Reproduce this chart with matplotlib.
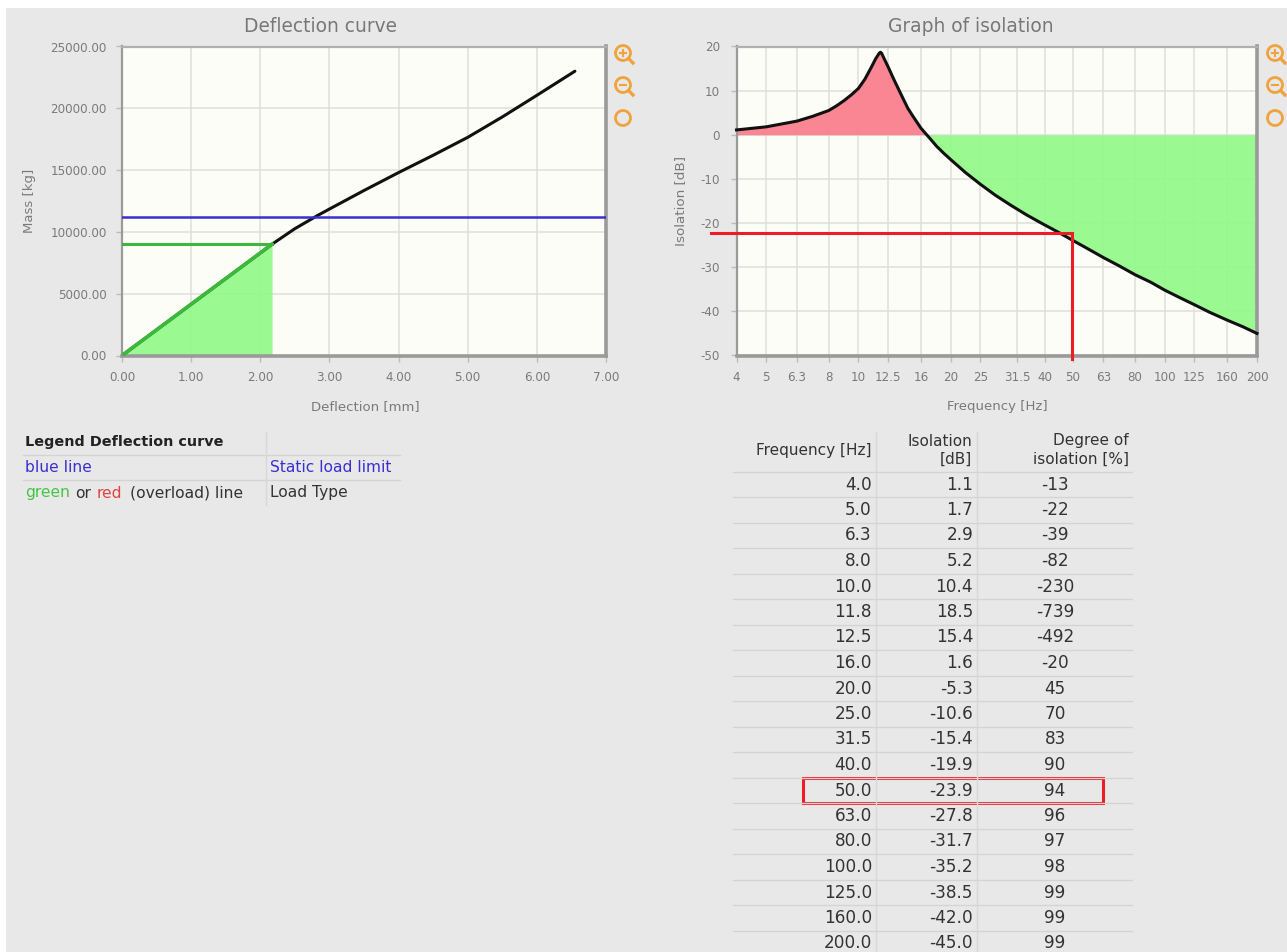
import matplotlib
matplotlib.use("Agg")
import matplotlib.pyplot as plt
from matplotlib.patches import Circle, Rectangle

W, H = 1287, 952

# =========================
# DATA
# =========================
deflection = [0.0, 2.19, 2.5, 2.82, 3.0, 3.5, 4.0, 4.5, 5.0, 5.5, 6.0, 6.55]
mass = [0, 9080, 10260, 11300, 11850, 13350, 14800, 16200, 17650, 19300, 21050, 23000]
load_deflection = 2.17
load_mass = 9010
static_limit = 11220

# estimated along the drawn curve, it sits a little away from the table below
iso_freq = [4, 5, 6.3, 7.1, 8, 8.5, 9, 9.5, 10, 10.5, 11, 11.4, 11.7, 11.8, 11.9, 12.2, 12.5, 13, 13.7, 14.5, 15, 16, 17, 18, 19, 20, 22.4, 25, 28, 31.5, 35.5, 40, 45, 50, 56, 63, 71, 80, 90, 100, 112, 125, 140, 160, 180, 200]
iso_db = [1.1, 1.8, 3.1, 4.2, 5.5, 6.6, 7.8, 9.1, 10.5, 12.6, 15.2, 17.3, 18.5, 18.7, 18.5, 16.9, 15.4, 12.8, 9.5, 6.0, 4.4, 1.5, -0.6, -2.6, -4.2, -5.6, -8.6, -11.2, -13.7, -16.0, -18.2, -20.2, -22.1, -23.9, -25.8, -27.8, -29.7, -31.7, -33.4, -35.2, -36.9, -38.5, -40.2, -42.0, -43.5, -45.0]

# the reference draws the 31.5 and 40 gridlines slightly right of their true log position
freq_ticks = [4, 5, 6.3, 8, 10, 12.5, 16, 20, 25, 33, 40.5, 50, 63, 80, 100, 125, 160, 200]
freq_labels = ["4", "5", "6.3", "8", "10", "12.5", "16", "20", "25", "31.5", "40", "50", "63", "80", "100", "125", "160", "200"]
iso_ticks = [20, 10, 0, -10, -20, -30, -40, -50]
iso_labels = ["20", "10", "0", "-10", "-20", "-30", "-40", "-50"]

table_freq = ["4.0", "5.0", "6.3", "8.0", "10.0", "11.8", "12.5", "16.0", "20.0", "25.0", "31.5", "40.0", "50.0", "63.0", "80.0", "100.0", "125.0", "160.0", "200.0"]
table_iso = ["1.1", "1.7", "2.9", "5.2", "10.4", "18.5", "15.4", "1.6", "-5.3", "-10.6", "-15.4", "-19.9", "-23.9", "-27.8", "-31.7", "-35.2", "-38.5", "-42.0", "-45.0"]
table_deg = ["-13", "-22", "-39", "-82", "-230", "-739", "-492", "-20", "45", "70", "83", "90", "94", "96", "97", "98", "99", "99", "99"]

# =========================
# COLOURS
# =========================
BG = "#e8e8e8"
PLOT_BG = "#fdfdf8"
GRID = "#dededa"
FRAME = "#9a9a9a"
TICK_TEXT = "#7a7a7a"
GREEN_FILL = "#92fa88"
RED_FILL = "#fb808e"
GREEN_LINE = "#3cb83c"
BLUE = "#3a2fd0"
RED = "#ee1c25"
ORANGE = "#f0a33c"
TEXT = "#333333"

plt.rcParams["font.family"] = ["DejaVu Sans"]

fig = plt.figure(figsize=(W / 100, H / 100), dpi=100, facecolor="white")


def make_axes(x0, y0, x1, y1):
    return fig.add_axes([x0 / W, 1 - y1 / H, (x1 - x0) / W, (y1 - y0) / H])


# full figure overlay in pixel coordinates, for the page furniture
page = fig.add_axes([0, 0, 1, 1], zorder=0)
page.set_xlim(0, W)
page.set_ylim(H, 0)
page.axis("off")
page.add_patch(Rectangle((6, 8), W - 6, H - 8, color=BG, lw=0))

over = fig.add_axes([0, 0, 1, 1], zorder=5)
over.set_xlim(0, W)
over.set_ylim(H, 0)
over.axis("off")


def style_axes(ax, ypad):
    ax.set_zorder(2)
    ax.set_facecolor(PLOT_BG)
    ax.grid(True, color=GRID, lw=1.1, zorder=1)
    ax.set_axisbelow(True)
    for s in ax.spines.values():
        s.set_color(FRAME)
        s.set_linewidth(1.6)
    ax.spines["top"].set_color("#b0b0b0")
    ax.spines["right"].set_linewidth(2.6)
    ax.spines["bottom"].set_linewidth(2.6)
    ax.tick_params(axis="both", which="major", length=4, width=1, color="#bbbbbb",
                   labelsize=8.6, labelcolor=TICK_TEXT)
    ax.tick_params(axis="both", which="minor", length=0)
    ax.tick_params(axis="x", pad=7)
    ax.tick_params(axis="y", pad=ypad)


# =========================
# DEFLECTION CURVE
# =========================
ax1 = make_axes(122, 46.5, 606, 355.5)
style_axes(ax1, 7)
ax1.set_xlim(0, 7)
ax1.set_ylim(0, 25000)
ax1.set_xticks(range(0, 8))
ax1.set_xticklabels([f"{v:.2f}" for v in range(0, 8)])
ax1.set_yticks(range(0, 25001, 5000))
ax1.set_yticklabels([f"{v:.2f}" for v in range(0, 25001, 5000)])

ax1.fill_between([0, load_deflection], [0, load_mass], 0, color=GREEN_FILL, alpha=0.92, lw=0, zorder=2)
ax1.plot(deflection, mass, color="#111111", lw=2.2, zorder=3, solid_capstyle="round")
ax1.plot([0, load_deflection], [0, load_mass], color=GREEN_LINE, lw=2.6, zorder=4)
ax1.plot([0, load_deflection], [load_mass, load_mass], color=GREEN_LINE, lw=2.2, zorder=4)
ax1.axhline(static_limit, color=BLUE, lw=1.8, zorder=4)

# =========================
# GRAPH OF ISOLATION
# =========================
ax2 = make_axes(736.5, 46.5, 1257, 355.5)
style_axes(ax2, 8)
ax2.set_xscale("log")
ax2.set_xlim(4, 200)
ax2.set_ylim(-50, 20)
ax2.set_xticks(freq_ticks)
ax2.set_xticklabels(freq_labels)
ax2.set_yticks(iso_ticks)
ax2.set_yticklabels(iso_labels)

ax2.fill_between(iso_freq, iso_db, 0, where=[v >= 0 for v in iso_db], interpolate=True,
                 color=RED_FILL, alpha=0.95, lw=0, zorder=2)
ax2.fill_between(iso_freq, iso_db, 0, where=[v <= 0 for v in iso_db], interpolate=True,
                 color=GREEN_FILL, alpha=0.92, lw=0, zorder=2)
ax2.plot(iso_freq, iso_db, color="#111111", lw=2.2, zorder=3, clip_on=False,
         solid_joinstyle="round")

# =========================
# TITLES AND AXIS LABELS
# =========================
over.text(320.5, 27, "Deflection curve", ha="center", va="center", fontsize=13.4, color="#777777")
over.text(971, 27, "Graph of isolation", ha="center", va="center", fontsize=13.4, color="#777777")
over.text(365, 406.5, "Deflection [mm]", ha="center", va="center", fontsize=9.5, color=TICK_TEXT)
over.text(997, 406.5, "Frequency [Hz]", ha="center", va="center", fontsize=9.5, color=TICK_TEXT)
over.text(30, 201, "Mass [kg]", ha="center", va="center", rotation=90, fontsize=9.5, color=TICK_TEXT)
over.text(681, 201, "Isolation [dB]", ha="center", va="center", rotation=90, fontsize=9.7, color=TICK_TEXT)

# red marker lines at 50 Hz
over.plot([711, 1072, 1072], [233, 233, 359], color=RED, lw=2.2, solid_joinstyle="miter")


# =========================
# ZOOM ICONS
# =========================
def icon(x, y, kind):
    over.add_patch(Circle((x, y), 7.5, fill=False, ec=ORANGE, lw=2.0, clip_on=True))
    if kind == "reset":
        return
    over.plot([x + 5.5, x + 10], [y + 5.5, y + 10], color=ORANGE, lw=2.4)
    over.plot([x - 3, x + 3], [y, y], color=ORANGE, lw=1.5)
    if kind == "in":
        over.plot([x, x], [y - 3, y + 3], color=ORANGE, lw=1.5)


for ix in (623, 1275):
    icon(ix, 53, "in")
    icon(ix, 85, "out")
    icon(ix, 118, "reset")

# =========================
# LEGEND TABLE
# =========================
LEGEND_SIZE = 11.2
over.text(25, 442, "Legend Deflection curve", fontsize=10.4, fontweight="bold", color="#222222", va="center")
over.text(25, 468, "blue line", fontsize=LEGEND_SIZE, color=BLUE, va="center")
over.text(270, 468, "Static load limit", fontsize=LEGEND_SIZE, color=BLUE, va="center")
over.text(25, 493, "green", fontsize=LEGEND_SIZE, color="#45c445", va="center")
over.text(75, 493, "or", fontsize=LEGEND_SIZE, color=TEXT, va="center")
over.text(97, 493, "red", fontsize=LEGEND_SIZE, color="#e0443c", va="center")
over.text(130, 493, "(overload) line", fontsize=LEGEND_SIZE, color=TEXT, va="center")
over.text(270, 493, "Load Type", fontsize=LEGEND_SIZE, color=TEXT, va="center")
for ly in (455, 480):
    over.plot([23, 400], [ly, ly], color="#d4d4d4", lw=1)
over.plot([266, 266], [432, 505], color="#d8d8d8", lw=1)

# =========================
# VALUE TABLE
# =========================
TABLE_SIZE = 12.2
HEAD_SIZE = 11
ROW0 = 484.5
ROW_STEP = 25.5

over.text(872, 450, "Frequency [Hz]", ha="right", va="center", fontsize=HEAD_SIZE, color=TEXT)
over.text(972, 441, "Isolation", ha="right", va="center", fontsize=HEAD_SIZE, color=TEXT)
over.text(972, 459, "[dB]", ha="right", va="center", fontsize=HEAD_SIZE, color=TEXT)
over.text(1129, 441, "Degree of", ha="right", va="center", fontsize=HEAD_SIZE, color=TEXT)
over.text(1129, 459, "isolation [%]", ha="right", va="center", fontsize=HEAD_SIZE, color=TEXT)

for i in range(len(table_freq)):
    ry = ROW0 + i * ROW_STEP
    over.text(872, ry, table_freq[i], ha="right", va="center", fontsize=TABLE_SIZE, color=TEXT)
    over.text(973, ry, table_iso[i], ha="right", va="center", fontsize=TABLE_SIZE, color=TEXT)
    over.text(1055, ry, table_deg[i], ha="center", va="center", fontsize=TABLE_SIZE, color=TEXT)
    over.plot([733, 1132], [ry - 12.9, ry - 12.9], color="#d4d4d4", lw=1)

over.plot([876, 876], [432, H], color="#d8d8d8", lw=1)
over.plot([977, 977], [432, H], color="#d8d8d8", lw=1)

# highlight around the 50 Hz row
over.add_patch(Rectangle((803, 777.6), 300, 25.5, fill=False, ec=RED, lw=2.2))

fig.savefig("out.png", dpi=100, facecolor=fig.get_facecolor())
